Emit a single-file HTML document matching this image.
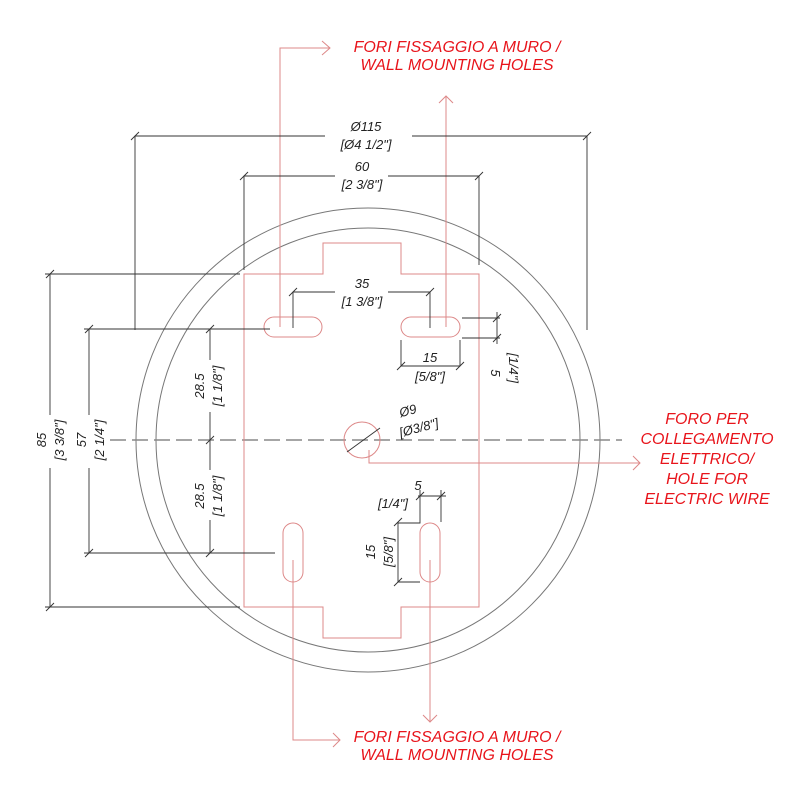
<!DOCTYPE html>
<html><head><style>
html,body{margin:0;padding:0;background:#fff}
svg{display:block}
text{font-family:"Liberation Sans",sans-serif;font-style:italic}
.d{font-size:13px;fill:#222}
.r{font-size:16px;fill:#e8141b}
</style></head><body>
<svg width="800" height="805" viewBox="0 0 800 805" xmlns="http://www.w3.org/2000/svg">
<g fill="none" stroke="#777" stroke-width="1">
<circle cx="368" cy="440" r="232"/>
<circle cx="368" cy="440" r="212"/>
</g>
<line x1="110" y1="440" x2="622" y2="440" stroke="#888" stroke-width="1.5" stroke-dasharray="16,6"/>
<g fill="none" stroke="#d88" stroke-width="1">
<path d="M244 274 H323 V243 H401 V274 H479 V607 H401 V638 H323 V607 H244 Z"/>
<rect x="264" y="317" width="58" height="20" rx="10"/>
<rect x="401" y="317" width="59" height="20" rx="10"/>
<rect x="283" y="523" width="20" height="59" rx="10"/>
<rect x="420" y="523" width="20" height="59" rx="10"/>
<circle cx="362" cy="440" r="18"/>
<path d="M280 327 V48 H330 M322 41 L330 48 L322 55"/>
<path d="M446 327 V96 M439 103 L446 96 L453 103"/>
<path d="M369 450 V463 H640 M633 456 L640 463 L633 470"/>
<path d="M293 560 V740 H340 M333 733 L340 740 L333 747"/>
<path d="M430 560 V722 M423 715 L430 722 L437 715"/>
</g>
<g fill="none" stroke="#333" stroke-width="0.9">
<path d="M135 330 V136 H325 M412 136 H587 V330"/>
<path d="M244 270 V176 H335 M388 176 H479 V265"/>
<path d="M293 328 V292 H335 M388 292 H430 V328"/>
<path d="M462 318 H500 M462 338 H500 M497 312 V344"/>
<path d="M401 340 V366 H460 V340"/>
<path d="M240 274 H45 M240 607 H45 M50 274 V415 M50 468 V607"/>
<path d="M270 329 H84 M275 553 H84 M89 329 V415 M89 468 V553"/>
<path d="M210 329 V360 M210 412 V470 M210 520 V553"/>
<path d="M347 452 L380 428"/>
<path d="M420 490 V523 H398 V582 H420 M441 490 V522 M418 496 H446"/>
</g>
<g stroke="#333" stroke-width="0.9">
<path d="M131 140 L139 132 M583 140 L591 132 M240 180 L248 172 M475 180 L483 172 M289 296 L297 288 M426 296 L434 288"/>
<path d="M46 278 L54 270 M46 611 L54 603 M85 333 L93 325 M85 557 L93 549 M206 333 L214 325 M206 444 L214 436 M206 557 L214 549"/>
<path d="M493 322 L501 314 M493 342 L501 334 M397 370 L405 362 M456 370 L464 362 M394 526 L402 518 M394 586 L402 578 M416 500 L424 492 M437 500 L445 492"/>
</g>
<g class="d" text-anchor="middle">
<text x="366" y="131">Ø115</text>
<text x="366" y="149">[Ø4 1/2"]</text>
<text x="362" y="171">60</text>
<text x="362" y="189">[2 3/8"]</text>
<text x="362" y="288">35</text>
<text x="362" y="306">[1 3/8"]</text>
<text x="430" y="362">15</text>
<text x="430" y="381">[5/8"]</text>
<text x="418" y="490">5</text>
<text x="393" y="508">[1/4"]</text>
<text transform="translate(491,373) rotate(90)">5</text>
<text transform="translate(509,368) rotate(90)">[1/4"]</text>
<text transform="translate(46,440) rotate(-90)">85</text>
<text transform="translate(64,440) rotate(-90)">[3 3/8"]</text>
<text transform="translate(86,440) rotate(-90)">57</text>
<text transform="translate(104,440) rotate(-90)">[2 1/4"]</text>
<text transform="translate(204,386) rotate(-90)">28.5</text>
<text transform="translate(222,386) rotate(-90)">[1 1/8"]</text>
<text transform="translate(204,496) rotate(-90)">28.5</text>
<text transform="translate(222,496) rotate(-90)">[1 1/8"]</text>
<text transform="translate(375,552) rotate(-90)">15</text>
<text transform="translate(393,552) rotate(-90)">[5/8"]</text>
<text transform="translate(409,415) rotate(-15)">Ø9</text>
<text transform="translate(420,432) rotate(-15)">[Ø3/8"]</text>
</g>
<g class="r" text-anchor="middle">
<text x="457" y="52">FORI FISSAGGIO A MURO /</text>
<text x="457" y="70">WALL MOUNTING HOLES</text>
<text x="457" y="742">FORI FISSAGGIO A MURO /</text>
<text x="457" y="760">WALL MOUNTING HOLES</text>
<text x="707" y="424">FORO PER</text>
<text x="707" y="444">COLLEGAMENTO</text>
<text x="707" y="464">ELETTRICO/</text>
<text x="707" y="484">HOLE FOR</text>
<text x="707" y="504">ELECTRIC WIRE</text>
</g>
</svg>
</body></html>
